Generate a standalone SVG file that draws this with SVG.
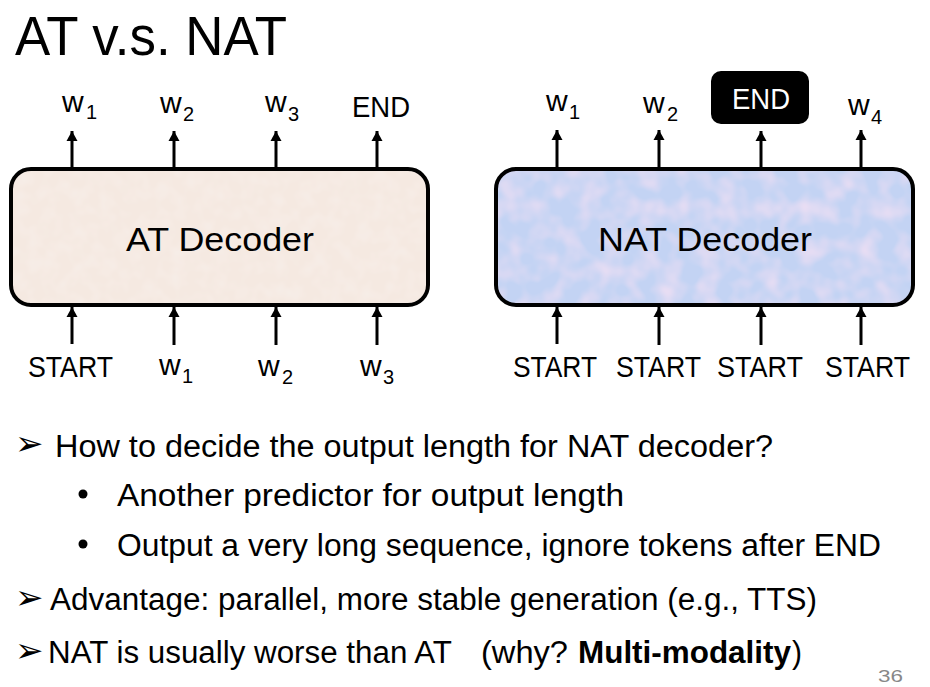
<svg xmlns="http://www.w3.org/2000/svg" width="930" height="687" viewBox="0 0 930 687">
<style>
  text { font-family: "Liberation Sans", Arial, sans-serif; fill: #000; }
  .lbl { font-size: 30px; }
  .sub { font-size: 20px; }
  .dec { font-size: 34px; }
  .body { font-size: 31px; }
  .mark { font-family: "DejaVu Sans", sans-serif; font-size: 34px; }
  .box { stroke: #000; stroke-width: 4; fill: none; }
  .conn line { stroke: #000; stroke-width: 3; marker-end: url(#ah); }
</style>
<defs>
  <marker id="ah" markerUnits="userSpaceOnUse" markerWidth="12" markerHeight="12" viewBox="0 0 12 12" refX="11" refY="6" orient="auto">
    <path d="M1,0.5 L11,6 L1,11.5 Z" fill="#000"/>
  </marker>
  <filter id="texAT" x="0" y="0" width="100%" height="100%">
    <feTurbulence type="fractalNoise" baseFrequency="0.07" numOctaves="2" seed="5" result="n"/>
    <feColorMatrix in="n" type="matrix" values="0 0 0 0 0.93  0 0 0 0 0.86  0 0 0 0 0.82  0 0 0 1.4 -0.55" result="spots"/>
    <feComposite in="spots" in2="SourceGraphic" operator="atop"/>
  </filter>
  <filter id="texNAT" x="0" y="0" width="100%" height="100%">
    <feTurbulence type="fractalNoise" baseFrequency="0.05" numOctaves="2" seed="9" result="n"/>
    <feColorMatrix in="n" type="matrix" values="0 0 0 0 0.86  0 0 0 0 0.74  0 0 0 0 0.9  0 0 0 1.6 -0.6" result="spots"/>
    <feComposite in="spots" in2="SourceGraphic" operator="atop"/>
  </filter>
</defs>
<rect width="930" height="687" fill="#fff"/>

<text id="title" x="15" y="55" font-size="56" textLength="272" lengthAdjust="spacingAndGlyphs">AT v.s. NAT</text>

<g id="at-decoder">
  <rect x="11" y="169" width="417" height="136" rx="20" fill="#f5e9e1" filter="url(#texAT)"/>
  <rect class="box" x="11" y="169" width="417" height="136" rx="20"/>
  <text class="dec" x="126" y="251" textLength="188" lengthAdjust="spacingAndGlyphs">AT Decoder</text>
</g>

<g id="nat-decoder">
  <rect x="496" y="169" width="417" height="136" rx="20" fill="#c3d3f3" filter="url(#texNAT)"/>
  <rect class="box" x="496" y="169" width="417" height="136" rx="20"/>
  <text class="dec" x="598" y="251" textLength="214" lengthAdjust="spacingAndGlyphs">NAT Decoder</text>
</g>

<g id="at-outputs">
  <g id="at-out-w1"><text class="lbl" x="62" y="112">w</text><text class="sub" x="86" y="119">1</text></g>
  <g id="at-out-w2"><text class="lbl" x="160" y="113">w</text><text class="sub" x="183" y="121">2</text></g>
  <g id="at-out-w3"><text class="lbl" x="265" y="112">w</text><text class="sub" x="288" y="121">3</text></g>
  <g id="at-out-end"><text class="lbl" x="352" y="117" textLength="58" lengthAdjust="spacingAndGlyphs">END</text></g>
</g>

<g id="at-inputs">
  <g id="at-in-start"><text class="lbl" x="28" y="377" textLength="85" lengthAdjust="spacingAndGlyphs">START</text></g>
  <g id="at-in-w1"><text class="lbl" x="159" y="375">w</text><text class="sub" x="182" y="383">1</text></g>
  <g id="at-in-w2"><text class="lbl" x="258" y="376">w</text><text class="sub" x="282" y="384">2</text></g>
  <g id="at-in-w3"><text class="lbl" x="360" y="376">w</text><text class="sub" x="383" y="384">3</text></g>
</g>

<g id="nat-outputs">
  <g id="nat-out-w1"><text class="lbl" x="546" y="111">w</text><text class="sub" x="569" y="119">1</text></g>
  <g id="nat-out-w2"><text class="lbl" x="643" y="113">w</text><text class="sub" x="667" y="121">2</text></g>
  <g id="nat-out-end">
    <rect x="711" y="71" width="98" height="53" rx="10" fill="#000"/>
    <text class="lbl" x="732" y="109" textLength="58" lengthAdjust="spacingAndGlyphs" style="fill:#fff">END</text>
  </g>
  <g id="nat-out-w4"><text class="lbl" x="848" y="115">w</text><text class="sub" x="871" y="124">4</text></g>
</g>

<g id="nat-inputs">
  <text class="lbl" x="513" y="377" textLength="84" lengthAdjust="spacingAndGlyphs">START</text>
  <text class="lbl" x="616" y="377" textLength="85" lengthAdjust="spacingAndGlyphs">START</text>
  <text class="lbl" x="717" y="377" textLength="86" lengthAdjust="spacingAndGlyphs">START</text>
  <text class="lbl" x="825" y="377" textLength="85" lengthAdjust="spacingAndGlyphs">START</text>
</g>

<g id="connectors" class="conn">
  <line x1="72" y1="167" x2="72" y2="131"/>
  <line x1="174" y1="167" x2="174" y2="131"/>
  <line x1="276" y1="167" x2="276" y2="131"/>
  <line x1="377" y1="167" x2="377" y2="131"/>
  <line x1="72" y1="344" x2="72" y2="307"/>
  <line x1="174" y1="345" x2="174" y2="307"/>
  <line x1="276" y1="345" x2="276" y2="307"/>
  <line x1="377" y1="345" x2="377" y2="307"/>
  <line x1="557" y1="167" x2="557" y2="130"/>
  <line x1="659" y1="167" x2="659" y2="130"/>
  <line x1="761" y1="167" x2="761" y2="131"/>
  <line x1="861" y1="167" x2="861" y2="130"/>
  <line x1="557" y1="344" x2="557" y2="307"/>
  <line x1="659" y1="345" x2="659" y2="307"/>
  <line x1="761" y1="345" x2="761" y2="307"/>
  <line x1="861" y1="345" x2="861" y2="307"/>
</g>

<g id="bullets">
  <text class="mark" x="15" y="455">➢</text>
  <text class="body" x="55" y="457" textLength="718" lengthAdjust="spacingAndGlyphs">How to decide the output length for NAT decoder?</text>
  <circle cx="83" cy="494" r="4.5" fill="#000"/>
  <text class="body" x="117" y="506" textLength="507" lengthAdjust="spacingAndGlyphs">Another predictor for output length</text>
  <circle cx="83" cy="544" r="4.5" fill="#000"/>
  <text class="body" x="117" y="556" textLength="764" lengthAdjust="spacingAndGlyphs">Output a very long sequence, ignore tokens after END</text>
  <text class="mark" x="15" y="609">➢</text>
  <text class="body" x="50" y="610" textLength="767" lengthAdjust="spacingAndGlyphs">Advantage: parallel, more stable generation (e.g., TTS)</text>
  <text class="mark" x="15" y="662">➢</text>
  <text class="body" x="48" y="663" textLength="404" lengthAdjust="spacingAndGlyphs">NAT is usually worse than AT</text>
  <text class="body" x="481" y="663" textLength="87" lengthAdjust="spacingAndGlyphs">(why?</text>
  <text class="body" x="578" y="663" font-weight="bold" textLength="213" lengthAdjust="spacingAndGlyphs">Multi-modality</text>
  <text class="body" x="792" y="663" textLength="10" lengthAdjust="spacingAndGlyphs">)</text>
</g>

<text id="page-number" x="878" y="682" font-size="17" style="fill:#888" textLength="25" lengthAdjust="spacingAndGlyphs">36</text>
</svg>
